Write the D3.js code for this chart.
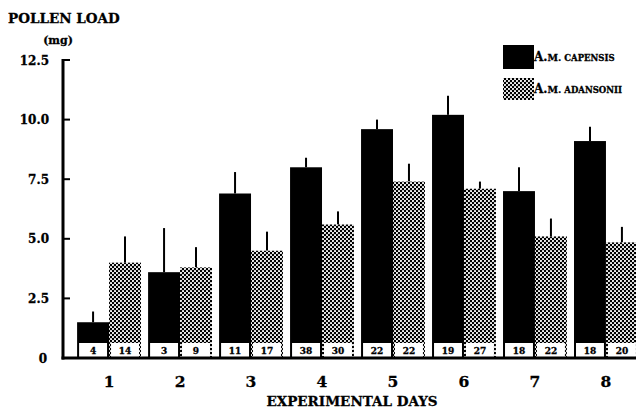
<!DOCTYPE html>
<html>
<head>
<meta charset="utf-8">
<script src="https://cdn.jsdelivr.net/npm/d3@7"></script>
<style>
  body { margin: 0; background: #fff; }
  text { font-family: "DejaVu Serif", serif; font-weight: bold; fill: #000; stroke: #000; stroke-width: 0.3px; }
</style>
</head>
<body>
<svg id="chart"></svg>
<script>
var days = ["1", "2", "3", "4", "5", "6", "7", "8"];
var capensisMean = [1.5, 3.6, 6.9, 8.0, 9.6, 10.2, 7.0, 9.1];
var capensisErr  = [0.45, 1.85, 0.9, 0.4, 0.4, 0.8, 1.0, 0.6];
var capensisN    = [4, 3, 11, 38, 22, 19, 18, 18];
var adansoniiMean = [4.0, 3.8, 4.5, 5.6, 7.4, 7.1, 5.1, 4.85];
var adansoniiErr  = [1.1, 0.85, 0.8, 0.55, 0.75, 0.3, 0.75, 0.65];
var adansoniiN    = [14, 9, 17, 30, 22, 27, 22, 20];
var yTicks = [0, 2.5, 5.0, 7.5, 10.0, 12.5];

var svgW = 636, svgH = 409;
var svg = d3.select("#chart").attr("width", svgW).attr("height", svgH);

// dotted fill for the second species
var defs = svg.append("defs");
var pat = defs.append("pattern")
  .attr("id", "dots")
  .attr("patternUnits", "userSpaceOnUse")
  .attr("width", 4).attr("height", 4);
pat.append("rect").attr("width", 4).attr("height", 4).attr("fill", "#000");
pat.append("circle").attr("cx", 1).attr("cy", 1).attr("r", 1.05).attr("fill", "#fff");
pat.append("circle").attr("cx", 3).attr("cy", 3).attr("r", 1.05).attr("fill", "#fff");

var y = d3.scaleLinear().domain([0, 12.5]).range([358, 60]);
var x = d3.scaleBand().domain(days).range([70, 645]).padding(0.1);
var sub = d3.scaleBand().domain(["cap", "ada"]).range([0, x.bandwidth()]);

var rows = days.map(function (d, i) {
  return [
    {day: d, sp: "cap", v: capensisMean[i], e: capensisErr[i], n: capensisN[i]},
    {day: d, sp: "ada", v: adansoniiMean[i], e: adansoniiErr[i], n: adansoniiN[i]}
  ];
});
var bars = [].concat.apply([], rows);

function bx(d) { return x(d.day) + sub(d.sp); }

// error bars (stem only, no caps)
svg.selectAll("line.err").data(bars).enter().append("line")
  .attr("class", "err")
  .attr("x1", function (d) { return bx(d) + sub.bandwidth() / 2; })
  .attr("x2", function (d) { return bx(d) + sub.bandwidth() / 2; })
  .attr("y1", function (d) { return y(d.v); })
  .attr("y2", function (d) { return y(d.v + d.e); })
  .attr("stroke", "#000").attr("stroke-width", 2);

svg.selectAll("rect.bar").data(bars).enter().append("rect")
  .attr("class", "bar")
  .attr("x", bx)
  .attr("y", function (d) { return y(d.v); })
  .attr("width", sub.bandwidth())
  .attr("height", function (d) { return y(0) - y(d.v); })
  .attr("fill", function (d) { return d.sp == "cap" ? "#000" : "url(#dots)"; });

// sample size boxes
svg.selectAll("rect.nbox").data(bars).enter().append("rect")
  .attr("class", "nbox")
  .attr("x", function (d) { return bx(d) + 2; })
  .attr("y", 343)
  .attr("width", sub.bandwidth() - 4)
  .attr("height", y(0) - 343)
  .attr("fill", "#fff");

svg.selectAll("text.n").data(bars).enter().append("text")
  .attr("class", "n")
  .attr("x", function (d) { return bx(d) + sub.bandwidth() / 2; })
  .attr("y", 353.5)
  .attr("text-anchor", "middle")
  .style("font-size", "9px")
  .text(function (d) { return d.n; });

// axes
var yAxis = svg.append("g").attr("transform", "translate(63,0)");
yAxis.append("line")
  .attr("x1", 0).attr("x2", 0).attr("y1", y(12.5) - 1).attr("y2", y(0) + 1.5)
  .attr("stroke", "#000").attr("stroke-width", 3);
yAxis.selectAll("line.tk").data(yTicks.slice(1)).enter().append("line")
  .attr("class", "tk")
  .attr("x1", 0).attr("x2", 7)
  .attr("y1", function (d) { return y(d); }).attr("y2", function (d) { return y(d); })
  .attr("stroke", "#000").attr("stroke-width", 2);
yAxis.selectAll("text.tl").data(yTicks).enter().append("text")
  .attr("class", "tl")
  .attr("x", function (d) { return d == 0 ? -16 : -14; })
  .attr("y", function (d) { return y(d) + 4.5; })
  .attr("text-anchor", "end")
  .style("font-size", "12px")
  .text(function (d) { return d == 0 ? "0" : d3.format(".1f")(d); });

svg.append("line")
  .attr("x1", 61.5).attr("x2", 636).attr("y1", y(0)).attr("y2", y(0))
  .attr("stroke", "#000").attr("stroke-width", 3);

svg.selectAll("text.day").data(days).enter().append("text")
  .attr("class", "day")
  .attr("x", function (d) { return x(d) + x.bandwidth() / 2; })
  .attr("y", 387)
  .attr("text-anchor", "middle")
  .style("font-size", "15.5px")
  .text(function (d) { return d; });

svg.append("text").attr("x", 352).attr("y", 406).attr("text-anchor", "middle")
  .style("font-size", "13.5px").text("EXPERIMENTAL DAYS");

svg.append("text").attr("x", 8).attr("y", 23).style("font-size", "13.5px").text("POLLEN LOAD");
svg.append("text").attr("x", 58).attr("y", 44).attr("text-anchor", "middle")
  .style("font-size", "11px").text("(mg)");

// legend
var legend = [
  {fill: "#000", a: "A.", m: "M.", rest: "CAPENSIS", y: 45, h: 24},
  {fill: "url(#dots)", a: "A.", m: "M.", rest: "ADANSONII", y: 78, h: 22}
];
var lg = svg.selectAll("g.lg").data(legend).enter().append("g").attr("class", "lg");
lg.append("rect")
  .attr("x", 503).attr("y", function (d) { return d.y; })
  .attr("width", 31).attr("height", function (d) { return d.h; })
  .attr("fill", function (d) { return d.fill; });
var lt = lg.append("text")
  .attr("x", 534).attr("y", function (d) { return d.y + d.h / 2 + 4; });
lt.append("tspan").style("font-size", "12px").text(function (d) { return d.a; });
lt.append("tspan").style("font-size", "9.5px").text(function (d) { return d.m; });
lt.append("tspan").attr("dx", 3).style("font-size", "8.5px").text(function (d) { return d.rest; });
</script>
</body>
</html>
